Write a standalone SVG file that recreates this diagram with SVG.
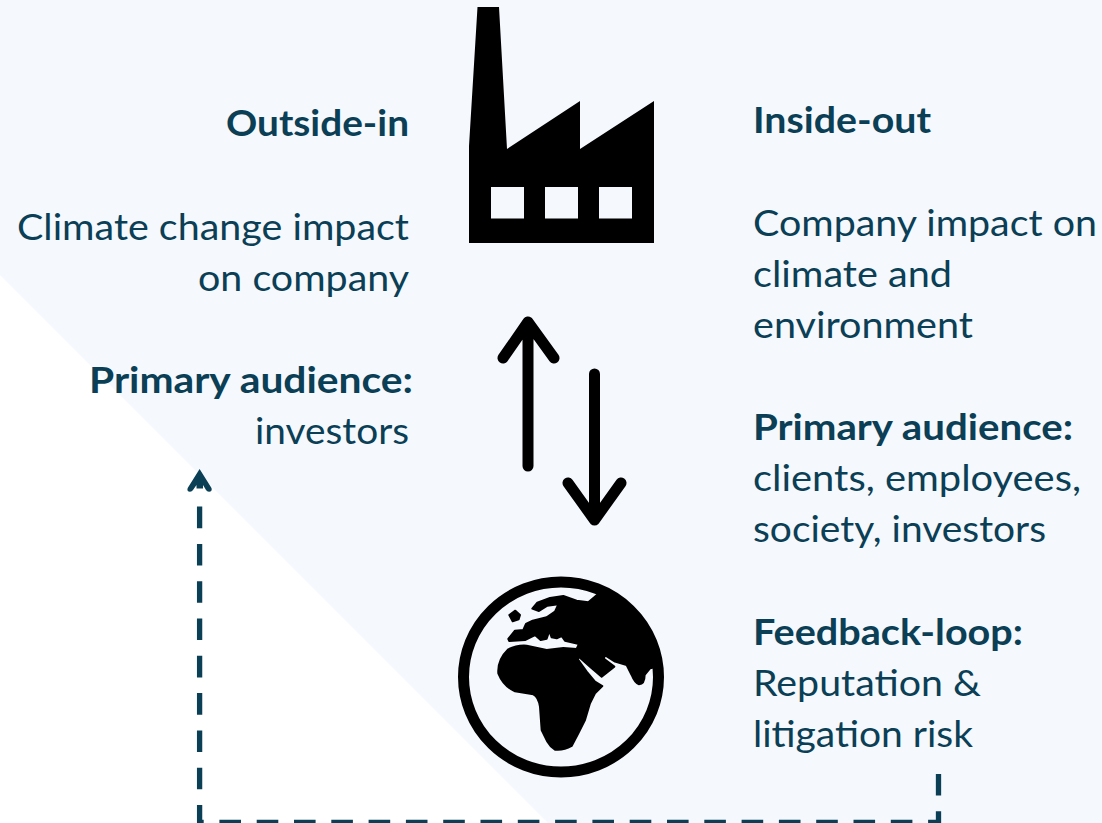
<svg xmlns="http://www.w3.org/2000/svg" width="1102" height="823" viewBox="0 0 1102 823">
<style>
text{font-family:"Lato","Open Sans","Liberation Sans",sans-serif;font-size:37px;fill:#0b3f56}
.b{font-weight:700}
.r{text-anchor:end}
.k{fill:#000}
.land{fill:#000;stroke:#000;stroke-width:6;stroke-linejoin:round}
.bg{fill:#f5f8fd}
.arrow{fill:none;stroke:#000;stroke-width:11;stroke-linecap:round;stroke-linejoin:round}
.dash{fill:none;stroke:#0b3f56;stroke-width:5.3;stroke-dasharray:21.6 15.7}
</style>
<rect width="1102" height="823" fill="#fff"/>
<path class="bg" d="M0 0H1102V823H548L0 275Z"/>
<g id="connectors">
<path class="arrow" d="M528 466V322M503 358L528 322L554 358"/>
<path class="arrow" d="M594.500 374V520M568 483L594.500 520L621 483"/>
<path class="dash" d="M938.500 774V822.500H199.600V504"/>
<path fill="#0b3f56" d="M199.600 469L211.500 488Q212.500 491.500 209 491.800Q207 491.800 206 490L203 485V488.500H196.500V485L193 490Q192 491.800 190 491.800Q186.500 491.500 187.700 488Z"/>
</g>
<g id="factory">
<path class="k" fill-rule="evenodd" d="M477.500 7H499L507 149L580 101V149L654 101V243H469V146ZM491 187V218.500H524V187ZM545 187V218.500H578V187ZM599 187V218.500H632V187Z"/>
</g>
<g id="globe">
<ellipse cx="561" cy="677" rx="97.500" ry="95" fill="none" stroke="#000" stroke-width="11"/>
<g transform="translate(440 560) scale(.3333)">
<path class="land" d="M292 128L330 114L370 108L410 122L445 127L477 100A282 274 0 0 1 645 322L630 325L614 345Q614 372 597 373Q585 370 575 345L560 315L525 305L497 287Q490 292 493 297L523 320L485 350L450 320L418 292L412 296L440 335L465 365L487 378L465 400L450 430L435 480L415 520L395 558Q370 572 345 569Q330 560 322 545L305 510L300 440Q295 410 280 403L225 394Q190 378 175 340Q172 300 205 268Q230 255 260 257L320 270L370 264L410 267L417 252L375 242L365 228L350 235L335 232L328 213L320 236L302 240L285 225L255 240L208 243L205 237L225 212L250 210L258 192L278 182L320 172L345 155L355 133L322 137L297 153L277 146Z"/>
<path class="land" d="M208 165L226 152L240 165L236 178L218 184Z"/>
</g>
</g>
<g id="outside-in">
<text class="b r" x="409" y="136" textLength="183" lengthAdjust="spacingAndGlyphs">Outside-in</text>
<text class="r" x="409" y="240" textLength="392" lengthAdjust="spacingAndGlyphs">Climate change impact</text>
<text class="r" x="409" y="291" textLength="211" lengthAdjust="spacingAndGlyphs">on company</text>
<text class="b r" x="413" y="393" textLength="324" lengthAdjust="spacingAndGlyphs">Primary audience:</text>
<text class="r" x="409" y="444" textLength="154" lengthAdjust="spacingAndGlyphs">investors</text>
</g>
<g id="inside-out">
<text class="b" x="753" y="133" textLength="178" lengthAdjust="spacingAndGlyphs">Inside-out</text>
<text x="753" y="236" textLength="344" lengthAdjust="spacingAndGlyphs">Company impact on</text>
<text x="753" y="287" textLength="199" lengthAdjust="spacingAndGlyphs">climate and</text>
<text x="753" y="338" textLength="220" lengthAdjust="spacingAndGlyphs">environment</text>
<text class="b" x="753" y="440" textLength="320" lengthAdjust="spacingAndGlyphs">Primary audience:</text>
<text x="753" y="491" textLength="328" lengthAdjust="spacingAndGlyphs">clients, employees,</text>
<text x="753" y="542" textLength="293" lengthAdjust="spacingAndGlyphs">society, investors</text>
<text class="b" x="753" y="645" textLength="270" lengthAdjust="spacingAndGlyphs">Feedback-loop:</text>
<text x="753" y="696" textLength="228" lengthAdjust="spacingAndGlyphs">Reputation &amp;</text>
<text x="753" y="747" textLength="220" lengthAdjust="spacingAndGlyphs">litigation risk</text>
</g>
</svg>
